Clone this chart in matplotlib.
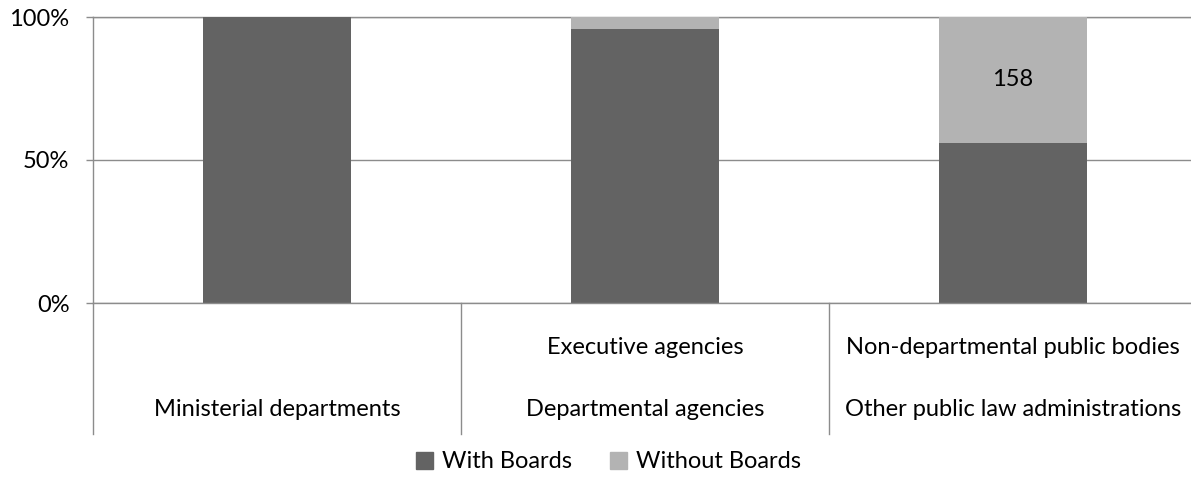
import matplotlib
matplotlib.use("Agg")
import matplotlib.pyplot as plt
from matplotlib.patches import Patch
import numpy as np

plt.rcParams["font.family"] = ["Lato", "DejaVu Sans"]

# category labels (two-level axis: inner / outer)
inner_labels = ["", "Executive agencies", "Non-departmental public bodies"]
outer_labels = ["Ministerial departments", "Departmental agencies", "Other public law administrations"]
series_names = ["With Boards", "Without Boards"]
with_boards = [100.0, 95.8, 56.0]
without_boards = [0.0, 4.2, 44.0]
bar_labels = ["", "", "158"]

DARK = "#636363"
LIGHT = "#b3b3b3"
GRID = "#8c8c8c"
FS = 17

fig = plt.figure(figsize=(11.91, 4.82), dpi=100)
W, H = 1191, 482
ax = fig.add_axes([93 / W, (H - 303) / H, (1197 - 93) / W, 286 / H])

x = np.arange(len(outer_labels)) + 0.5
ax.bar(x, with_boards, width=0.4, color=DARK, zorder=3)
ax.bar(x, without_boards, width=0.4, bottom=with_boards, color=LIGHT, zorder=3)
for xi, b, h, lab in zip(x, with_boards, without_boards, bar_labels):
    if lab:
        ax.text(xi, b + h / 2, lab, ha="center", va="center", fontsize=FS, zorder=4)

ax.set_xlim(0, 3)
ax.set_ylim(0, 100)
ax.set_yticks([0, 50, 100])
ax.set_yticklabels(["0%", "50%", "100%"], fontsize=FS)
ax.yaxis.grid(True, color=GRID, lw=1.0, zorder=0)
ax.tick_params(axis="y", length=5, width=1.0, color=GRID, pad=12)
ax.set_xticks([])
for s in ["top", "right", "bottom"]:
    ax.spines[s].set_visible(False)
ax.spines["left"].set_color(GRID)
ax.spines["left"].set_linewidth(1.0)
ax.axhline(100, color=GRID, lw=1.0, clip_on=False, zorder=1)
ax.axhline(0, color=GRID, lw=1.0, clip_on=False, zorder=4)

# category dividers below the axis
trans = ax.get_xaxis_transform()
depth = -(434 - 303) / 286
for xd in [0, 1, 2]:
    ax.plot([xd, xd], [0, depth], color=GRID, lw=1.0, transform=trans, clip_on=False)

y_inner = -(348 - 303) / 286
y_outer = -(410 - 303) / 286
for xi, a, b in zip(x, inner_labels, outer_labels):
    ax.text(xi, y_inner, a, transform=trans, ha="center", va="center", fontsize=FS)
    ax.text(xi, y_outer, b, transform=trans, ha="center", va="center", fontsize=FS)

handles = [Patch(color=DARK), Patch(color=LIGHT)]
fig.legend(handles, series_names, loc="center", bbox_to_anchor=(0.511, 20 / H),
           ncol=2, frameon=False, fontsize=FS, handlelength=0.7, handleheight=0.7,
           handletextpad=0.4, columnspacing=1.6)

fig.savefig("out.png", dpi=100)
